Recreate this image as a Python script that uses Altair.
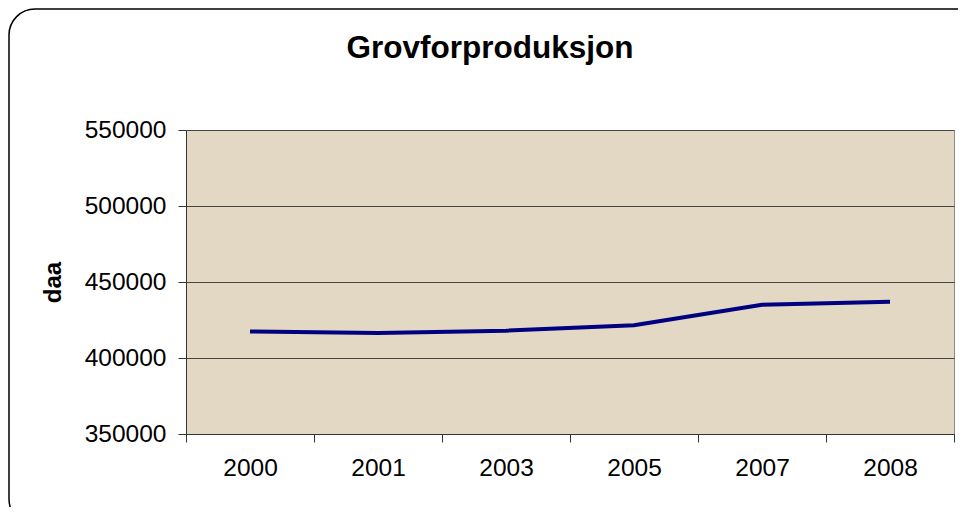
import altair as alt
import pandas as pd

years = ["2000", "2001", "2003", "2005", "2007", "2008"]
values = [417500, 416500, 418000, 421500, 435000, 437000]
title_text = "Grovforproduksjon"

df = pd.DataFrame({"year": years, "daa": values})

FONT = "Liberation Sans"

frame = alt.Chart(pd.DataFrame({"k": [0]})).mark_rect(
    fillOpacity=0, stroke="black", strokeWidth=1.5, cornerRadius=26
).encode(
    x=alt.value(-177), x2=alt.value(800),
    y=alt.value(-121), y2=alt.value(395),
)

title = alt.Chart(pd.DataFrame({"t": [title_text]})).mark_text(
    font=FONT, fontSize=31.5, fontWeight="bold", color="black",
    align="center", baseline="alphabetic",
).encode(text="t:N", x=alt.value(304), y=alt.value(-72))

line = alt.Chart(df).mark_line(color="#000080", strokeWidth=4).encode(
    x=alt.X(
        "year:N",
        sort=years,
        scale=alt.Scale(type="band", paddingInner=0, paddingOuter=0),
        axis=alt.Axis(
            title=None, labelAngle=0, labelFontSize=24.5, labelFont=FONT,
            labelColor="black", tickBand="extent", tickSize=8,
            tickColor="#333333", domainColor="#333333", labelPadding=14,
            grid=False,
        ),
    ),
    y=alt.Y(
        "daa:Q",
        scale=alt.Scale(domain=[350000, 550000], nice=False, zero=False),
        axis=alt.Axis(
            values=[350000, 400000, 450000, 500000, 550000],
            format="d", labelFontSize=24.5, labelFont=FONT, labelColor="black",
            tickSize=8, tickColor="#333333", domainColor="#333333",
            labelPadding=12, grid=True, gridColor="#444444", gridWidth=1,
            title="daa", titleFont=FONT, titleFontSize=24,
            titleFontWeight="bold", titleColor="black", titleAngle=-90,
            titleX=-133, titleY=152, titleBaseline="middle", titleAlign="center",
        ),
    ),
)

chart = alt.layer(line, frame, title).properties(
    width=768,
    height=304,
    background="white",
    autosize=alt.AutoSizeParams(type="none"),
    padding={"left": 178, "top": 122, "right": 4, "bottom": 73},
).configure_view(fill="#e2d8c4", stroke="#8a8a8a")

chart.save("out.html", embed_options={"renderer": "svg", "actions": False})
